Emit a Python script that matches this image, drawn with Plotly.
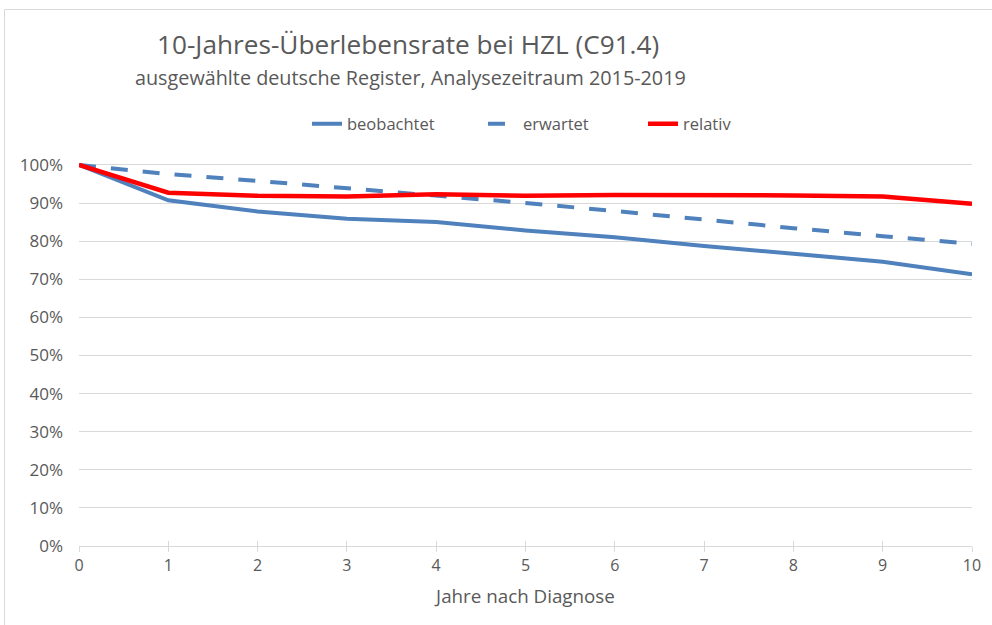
import plotly.graph_objects as go

jahre = [0, 1, 2, 3, 4, 5, 6, 7, 8, 9, 10]
beobachtet = [1.000, 0.907, 0.878, 0.859, 0.850, 0.828, 0.810, 0.787, 0.767, 0.746, 0.713]
erwartet = [1.000, 0.976, 0.958, 0.939, 0.920, 0.900, 0.879, 0.856, 0.834, 0.813, 0.793]
relativ = [1.000, 0.927, 0.919, 0.917, 0.923, 0.919, 0.921, 0.921, 0.920, 0.917, 0.898]

titel = "10-Jahres-Überlebensrate bei HZL (C91.4)"
untertitel = "ausgewählte deutsche Register, Analysezeitraum 2015-2019"
x_titel = "Jahre nach Diagnose"

FONT = "Open Sans"
GRAY = "#595959"
GRID = "#d9d9d9"
BLUE = "#4f81bd"
RED = "#ff0000"

W, H = 992, 625
L, R, T, B = 79, 20, 163, 79
plot_h = H - T - B
plot_w = W - L - R
def py(pix):
    return (H - B - pix) / plot_h
def px(pix):
    return (pix - L) / plot_w

fig = go.Figure()
fig.add_trace(go.Scatter(x=jahre, y=beobachtet, name="beobachtet", mode="lines",
                         line=dict(color=BLUE, width=4), legend="legend"))
fig.add_trace(go.Scatter(x=jahre, y=erwartet, name="erwartet", mode="lines",
                         line=dict(color=BLUE, width=4, dash="17px,15px"), legend="legend2"))
fig.add_trace(go.Scatter(x=jahre, y=relativ, name="relativ", mode="lines",
                         line=dict(color=RED, width=4.5), legend="legend3"))

def leg(xpix):
    return dict(orientation="h", x=px(xpix), xanchor="left", y=py(124), yanchor="middle",
                font=dict(size=16.5, color=GRAY), bgcolor="rgba(0,0,0,0)")

fig.update_layout(
    width=W, height=H,
    margin=dict(l=L, r=R, t=T, b=B, autoexpand=False),
    paper_bgcolor="white", plot_bgcolor="white",
    font=dict(family=FONT, color=GRAY, size=15),
    showlegend=True,
    legend=leg(348 - 41),
    legend2=leg(524 - 41),
    legend3=leg(683 - 40),
    xaxis=dict(range=[0, 10], tickmode="linear", tick0=0, dtick=1,
               showgrid=False, showline=True, linecolor=GRID, linewidth=1,
               ticks="outside", ticklen=5, tickcolor=GRID, tickwidth=1,
               tickfont=dict(size=16, color=GRAY), zeroline=False,
               title=dict(text=x_titel, font=dict(size=18.8, color=GRAY), standoff=14)),
    xaxis2=dict(range=[0, 10], tickmode="linear", tick0=0, dtick=1, overlaying="x",
                side="bottom", showgrid=False, showline=False, ticks="inside", ticklen=5,
                tickcolor=GRID, tickwidth=1, showticklabels=False, zeroline=False),
    yaxis=dict(range=[0, 1.005], tickmode="linear", tick0=0, dtick=0.1, tickformat=".0%",
               showgrid=True, gridcolor=GRID, gridwidth=1, zeroline=False,
               tickfont=dict(size=17, color=GRAY), ticklabelstandoff=15),
)
# invisible trace to activate the overlay axis for crossing tick marks
fig.add_trace(go.Scatter(x=[jahre[0]], y=[beobachtet[0]], xaxis="x2", mode="lines",
                         showlegend=False, hoverinfo="skip", line=dict(width=0)))

fig.add_annotation(text=titel, x=px(408), y=py(44), xref="paper", yref="paper",
                   xanchor="center", yanchor="middle", showarrow=False,
                   font=dict(size=26.2, color=GRAY, family=FONT))
fig.add_annotation(text=untertitel, x=px(410), y=py(77), xref="paper", yref="paper",
                   xanchor="center", yanchor="middle", showarrow=False,
                   font=dict(size=19.8, color=GRAY, family=FONT))
fig.add_shape(type="rect", xref="paper", yref="paper",
              x0=px(4.5), y0=py(700), x1=px(1100), y1=py(9.5),
              line=dict(color=GRID, width=1), fillcolor="rgba(0,0,0,0)", layer="below")

fig.write_html("out.html", config={"displayModeBar": False},
               post_script="document.body.style.margin='0';document.body.style.overflow='hidden';")
